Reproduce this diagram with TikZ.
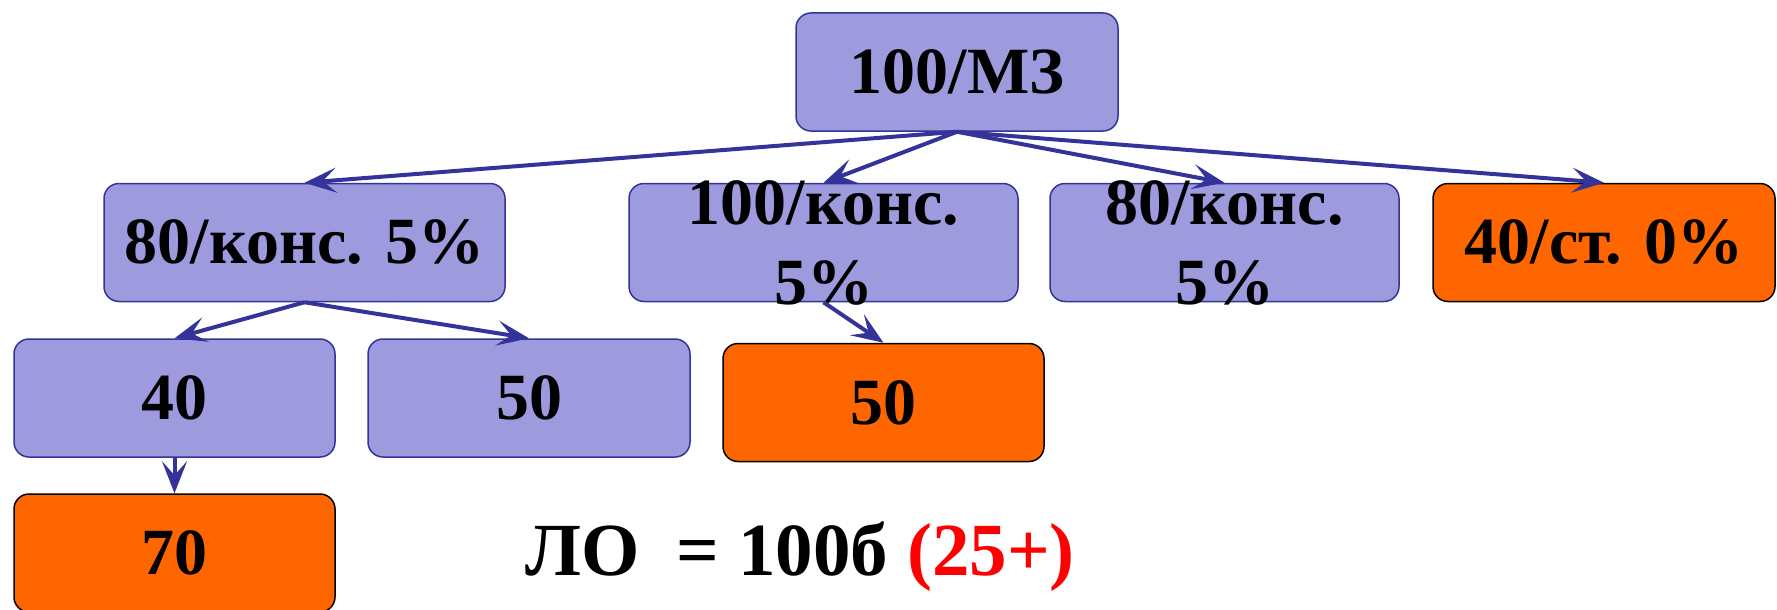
\documentclass[tikz,border=0pt]{standalone}
\usepackage{fontspec}
\setmainfont{Liberation Serif}
\usetikzlibrary{arrows.meta}
\definecolor{boxfill}{HTML}{9D9BDD}
\definecolor{boxline}{HTML}{333399}
\definecolor{hotfill}{HTML}{FF6600}

\begin{document}
\begin{tikzpicture}[x=1pt, y=-1pt,
    box/.style={draw=boxline, fill=boxfill, line width=1.5pt, rounded corners=15pt,
                minimum width=#1, minimum height=118pt, inner sep=0pt,
                font=\fontsize{66}{79}\selectfont\bfseries},
    hot/.style={box=#1, draw=black, fill=hotfill},
    lbl/.style={align=center, inner sep=0pt, font=\fontsize{66}{80}\selectfont\bfseries},
    arr/.style={draw=boxline, line width=4pt, -{Stealth[length=32pt, width=25pt, inset=14pt]}}]
  \useasboundingbox (0,0) rectangle (1777,610);

  % top
  \node[box=322pt] (mz) at (957,72) {100/МЗ};

  % second row
  \node[box=401pt] (kons1) at (304.5,242.5) {80/конс. 5\%};
  \node[box=389pt] (kons2) at (823.5,242.5) {};
  \node[lbl] at (kons2) {100/конс.\\5\%};
  \node[box=349pt] (kons3) at (1224.5,242.5) {};
  \node[lbl] at (kons3) {80/конс.\\5\%};
  \node[hot=342pt] (st) at (1604,242.5) {40/ст. 0\%};

  % third row
  \node[box=321pt] (n40) at (174.5,398) {40};
  \node[box=322pt] (n50) at (529,398) {50};
  \node[hot=321pt] (r50) at (883.5,402.5) {50};

  % bottom
  \node[hot=321pt] (r70) at (174.5,553) {70};
  \node[anchor=base west, inner sep=0pt, font=\fontsize{75}{90}\selectfont\bfseries]
    (lo) at (525,575) {ЛО\ \ = 100б {\color{red}(25+)}};

  \foreach \t in {kons1,kons2,kons3,st}
    \draw[arr] (mz.south) -- (\t.north);
  \draw[arr] (kons1.south) -- (n40.north);
  \draw[arr] (kons1.south) -- (n50.north);
  \draw[arr] (kons2.south) -- (r50.north);
  \draw[arr] (n40.south) -- (r70.north);
\end{tikzpicture}
\end{document}
